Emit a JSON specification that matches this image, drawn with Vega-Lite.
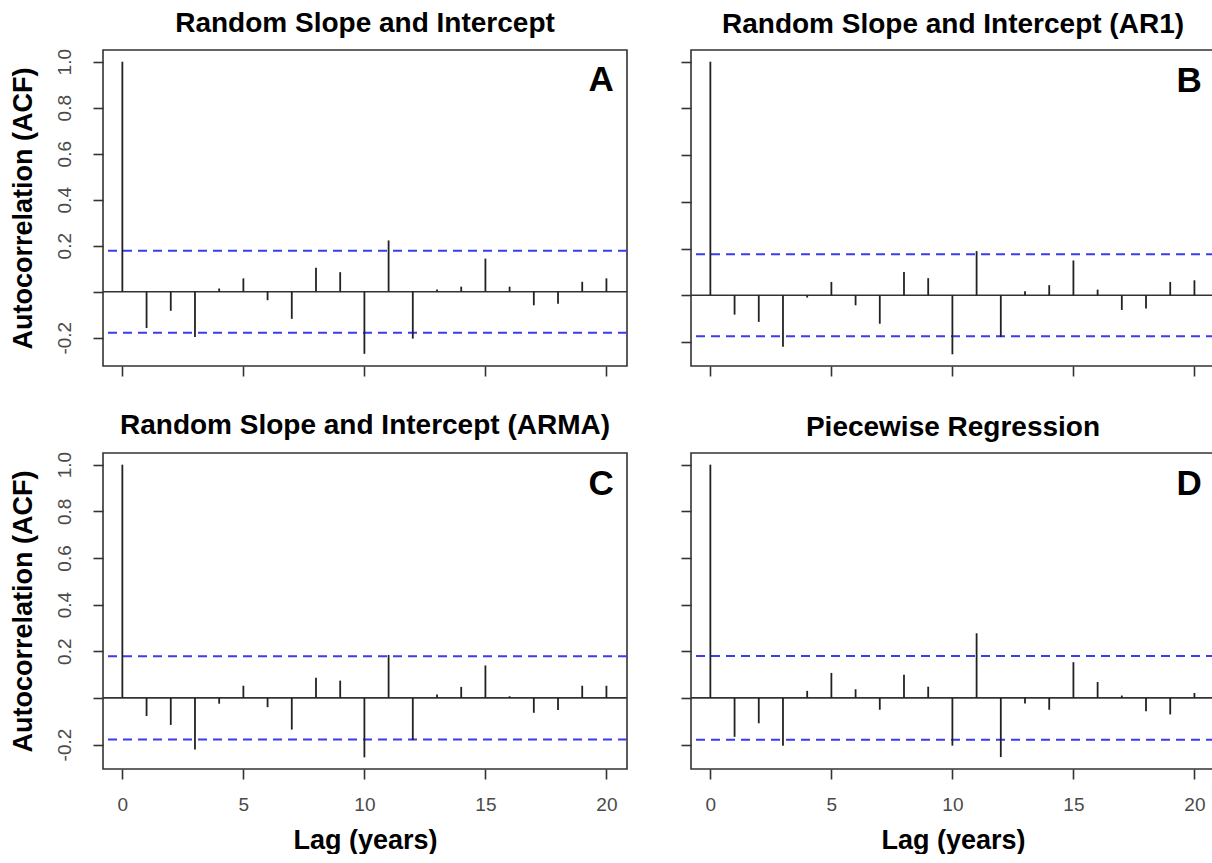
{
  "$schema": "https://vega.github.io/schema/vega-lite/v6.json",
  "background": "white",
  "padding": {"left": 8, "top": 8, "right": 0, "bottom": 0},
  "config": {
    "font": "Liberation Sans",
    "view": {"stroke": "#333333", "strokeWidth": 1.6},
    "title": {"font": "Liberation Sans", "fontSize": 28, "fontWeight": "bold", "color": "#000000", "anchor": "middle", "offset": 11},
    "axis": {
      "domain": false, "grid": false,
      "tickColor": "#333333", "tickWidth": 1.6, "tickSize": 10,
      "labelFont": "Liberation Sans", "labelFontSize": 19, "labelColor": "#4a4a4a",
      "titleFont": "Liberation Sans", "titleFontSize": 27, "titleFontWeight": "bold", "titleColor": "#000000"
    }
  },
  "datasets": {
    "acf": [
      {"panel": "A", "lag": 0, "acf": 1.0}, {"panel": "A", "lag": 1, "acf": -0.158}, {"panel": "A", "lag": 2, "acf": -0.083},
      {"panel": "A", "lag": 3, "acf": -0.197}, {"panel": "A", "lag": 4, "acf": 0.014}, {"panel": "A", "lag": 5, "acf": 0.058},
      {"panel": "A", "lag": 6, "acf": -0.037}, {"panel": "A", "lag": 7, "acf": -0.118}, {"panel": "A", "lag": 8, "acf": 0.104},
      {"panel": "A", "lag": 9, "acf": 0.085}, {"panel": "A", "lag": 10, "acf": -0.27}, {"panel": "A", "lag": 11, "acf": 0.223},
      {"panel": "A", "lag": 12, "acf": -0.204}, {"panel": "A", "lag": 13, "acf": 0.01}, {"panel": "A", "lag": 14, "acf": 0.022},
      {"panel": "A", "lag": 15, "acf": 0.144}, {"panel": "A", "lag": 16, "acf": 0.022}, {"panel": "A", "lag": 17, "acf": -0.059},
      {"panel": "A", "lag": 18, "acf": -0.052}, {"panel": "A", "lag": 19, "acf": 0.043}, {"panel": "A", "lag": 20, "acf": 0.058},
      {"panel": "B", "lag": 0, "acf": 1.0}, {"panel": "B", "lag": 1, "acf": -0.083}, {"panel": "B", "lag": 2, "acf": -0.114},
      {"panel": "B", "lag": 3, "acf": -0.221}, {"panel": "B", "lag": 4, "acf": -0.01}, {"panel": "B", "lag": 5, "acf": 0.057},
      {"panel": "B", "lag": 6, "acf": -0.043}, {"panel": "B", "lag": 7, "acf": -0.122}, {"panel": "B", "lag": 8, "acf": 0.1},
      {"panel": "B", "lag": 9, "acf": 0.073}, {"panel": "B", "lag": 10, "acf": -0.253}, {"panel": "B", "lag": 11, "acf": 0.189},
      {"panel": "B", "lag": 12, "acf": -0.179}, {"panel": "B", "lag": 13, "acf": 0.017}, {"panel": "B", "lag": 14, "acf": 0.043},
      {"panel": "B", "lag": 15, "acf": 0.149}, {"panel": "B", "lag": 16, "acf": 0.024}, {"panel": "B", "lag": 17, "acf": -0.063},
      {"panel": "B", "lag": 18, "acf": -0.057}, {"panel": "B", "lag": 19, "acf": 0.057}, {"panel": "B", "lag": 20, "acf": 0.064},
      {"panel": "C", "lag": 0, "acf": 1.0}, {"panel": "C", "lag": 1, "acf": -0.078}, {"panel": "C", "lag": 2, "acf": -0.116},
      {"panel": "C", "lag": 3, "acf": -0.221}, {"panel": "C", "lag": 4, "acf": -0.025}, {"panel": "C", "lag": 5, "acf": 0.052},
      {"panel": "C", "lag": 6, "acf": -0.04}, {"panel": "C", "lag": 7, "acf": -0.136}, {"panel": "C", "lag": 8, "acf": 0.086},
      {"panel": "C", "lag": 9, "acf": 0.074}, {"panel": "C", "lag": 10, "acf": -0.255}, {"panel": "C", "lag": 11, "acf": 0.184},
      {"panel": "C", "lag": 12, "acf": -0.181}, {"panel": "C", "lag": 13, "acf": 0.014}, {"panel": "C", "lag": 14, "acf": 0.047},
      {"panel": "C", "lag": 15, "acf": 0.139}, {"panel": "C", "lag": 16, "acf": 0.007}, {"panel": "C", "lag": 17, "acf": -0.064},
      {"panel": "C", "lag": 18, "acf": -0.052}, {"panel": "C", "lag": 19, "acf": 0.052}, {"panel": "C", "lag": 20, "acf": 0.052},
      {"panel": "D", "lag": 0, "acf": 1.0}, {"panel": "D", "lag": 1, "acf": -0.167}, {"panel": "D", "lag": 2, "acf": -0.109},
      {"panel": "D", "lag": 3, "acf": -0.205}, {"panel": "D", "lag": 4, "acf": 0.03}, {"panel": "D", "lag": 5, "acf": 0.107},
      {"panel": "D", "lag": 6, "acf": 0.037}, {"panel": "D", "lag": 7, "acf": -0.051}, {"panel": "D", "lag": 8, "acf": 0.099},
      {"panel": "D", "lag": 9, "acf": 0.048}, {"panel": "D", "lag": 10, "acf": -0.205}, {"panel": "D", "lag": 11, "acf": 0.277},
      {"panel": "D", "lag": 12, "acf": -0.254}, {"panel": "D", "lag": 13, "acf": -0.024}, {"panel": "D", "lag": 14, "acf": -0.051},
      {"panel": "D", "lag": 15, "acf": 0.153}, {"panel": "D", "lag": 16, "acf": 0.068}, {"panel": "D", "lag": 17, "acf": 0.01},
      {"panel": "D", "lag": 18, "acf": -0.057}, {"panel": "D", "lag": 19, "acf": -0.071}, {"panel": "D", "lag": 20, "acf": 0.021}
    ],
    "ci": [
      {"panel": "A", "ci": 0.178}, {"panel": "A", "ci": -0.178},
      {"panel": "B", "ci": 0.176}, {"panel": "B", "ci": -0.176},
      {"panel": "C", "ci": 0.178}, {"panel": "C", "ci": -0.178},
      {"panel": "D", "ci": 0.18}, {"panel": "D", "ci": -0.18}
    ],
    "letters": [
      {"panel": "A", "letter": "A"}, {"panel": "B", "letter": "B"},
      {"panel": "C", "letter": "C"}, {"panel": "D", "letter": "D"}
    ]
  },
  "spacing": 33,
  "vconcat": [
    {
      "spacing": 50,
      "hconcat": [
        {
          "title": "Random Slope and Intercept",
          "width": 524, "height": 316,
          "layer": [
            {
              "data": {"name": "ci"}, "transform": [{"filter": "datum.panel === 'A'"}],
              "mark": {"type": "rule", "color": "#3b3bf2", "strokeWidth": 2, "strokeDash": [9, 6]},
              "encoding": {"y": {"field": "ci", "type": "quantitative", "scale": {"domain": [-0.323, 1.051], "nice": false, "zero": false},
                "axis": {"values": [-0.2, 0, 0.2, 0.4, 0.6, 0.8, 1], "labelExpr": "datum.value == 0 ? '' : replace(format(datum.value, '.1f'), '−', '-')", "title": "Autocorrelation (ACF)", "labelAngle": -90, "labelAlign": "center", "labelBaseline": "bottom", "labelPadding": 19, "titlePadding": 18}}}
            },
            {
              "data": {"values": [{}]},
              "mark": {"type": "rule", "color": "#333333", "strokeWidth": 1.6},
              "encoding": {"y": {"datum": 0}}
            },
            {
              "data": {"name": "acf"}, "transform": [{"filter": "datum.panel === 'A'"}],
              "mark": {"type": "rule", "color": "#222222", "strokeWidth": 1.8},
              "encoding": {
                "x": {"field": "lag", "type": "quantitative", "scale": {"domain": [-0.8, 20.85], "nice": false, "zero": false},
                  "axis": {"values": [0, 5, 10, 15, 20], "labels": false, "title": null}},
                "y": {"field": "acf", "type": "quantitative"},
                "y2": {"datum": 0}
              }
            },
            {
              "data": {"name": "letters"}, "transform": [{"filter": "datum.panel === 'A'"}],
              "mark": {"type": "text", "fontSize": 35, "fontWeight": "bold", "align": "right", "baseline": "alphabetic", "color": "#000000"},
              "encoding": {"text": {"field": "letter"}, "x": {"datum": 20.3}, "y": {"datum": 0.872}}
            }
          ]
        },
        {
          "title": "Random Slope and Intercept (AR1)",
          "width": 524, "height": 316,
          "layer": [
            {
              "data": {"name": "ci"}, "transform": [{"filter": "datum.panel === 'B'"}],
              "mark": {"type": "rule", "color": "#3b3bf2", "strokeWidth": 2, "strokeDash": [9, 6]},
              "encoding": {"y": {"field": "ci", "type": "quantitative", "scale": {"domain": [-0.303, 1.05], "nice": false, "zero": false},
                "axis": {"values": [-0.2, 0, 0.2, 0.4, 0.6, 0.8, 1], "labels": false, "title": null}}}
            },
            {
              "data": {"values": [{}]},
              "mark": {"type": "rule", "color": "#333333", "strokeWidth": 1.6},
              "encoding": {"y": {"datum": 0}}
            },
            {
              "data": {"name": "acf"}, "transform": [{"filter": "datum.panel === 'B'"}],
              "mark": {"type": "rule", "color": "#222222", "strokeWidth": 1.8},
              "encoding": {
                "x": {"field": "lag", "type": "quantitative", "scale": {"domain": [-0.8, 20.85], "nice": false, "zero": false},
                  "axis": {"values": [0, 5, 10, 15, 20], "labels": false, "title": null}},
                "y": {"field": "acf", "type": "quantitative"},
                "y2": {"datum": 0}
              }
            },
            {
              "data": {"name": "letters"}, "transform": [{"filter": "datum.panel === 'B'"}],
              "mark": {"type": "text", "fontSize": 35, "fontWeight": "bold", "align": "right", "baseline": "alphabetic", "color": "#000000"},
              "encoding": {"text": {"field": "letter"}, "x": {"datum": 20.3}, "y": {"datum": 0.872}}
            }
          ]
        }
      ]
    },
    {
      "spacing": 50,
      "hconcat": [
        {
          "title": "Random Slope and Intercept (ARMA)",
          "width": 524, "height": 316,
          "layer": [
            {
              "data": {"name": "ci"}, "transform": [{"filter": "datum.panel === 'C'"}],
              "mark": {"type": "rule", "color": "#3b3bf2", "strokeWidth": 2, "strokeDash": [9, 6]},
              "encoding": {"y": {"field": "ci", "type": "quantitative", "scale": {"domain": [-0.305, 1.05], "nice": false, "zero": false},
                "axis": {"values": [-0.2, 0, 0.2, 0.4, 0.6, 0.8, 1], "labelExpr": "datum.value == 0 ? '' : replace(format(datum.value, '.1f'), '−', '-')", "title": "Autocorrelation (ACF)", "labelAngle": -90, "labelAlign": "center", "labelBaseline": "bottom", "labelPadding": 19, "titlePadding": 18}}}
            },
            {
              "data": {"values": [{}]},
              "mark": {"type": "rule", "color": "#333333", "strokeWidth": 1.6},
              "encoding": {"y": {"datum": 0}}
            },
            {
              "data": {"name": "acf"}, "transform": [{"filter": "datum.panel === 'C'"}],
              "mark": {"type": "rule", "color": "#222222", "strokeWidth": 1.8},
              "encoding": {
                "x": {"field": "lag", "type": "quantitative", "scale": {"domain": [-0.8, 20.85], "nice": false, "zero": false},
                  "axis": {"values": [0, 5, 10, 15, 20], "title": "Lag (years)", "labelPadding": 16, "titlePadding": 13}},
                "y": {"field": "acf", "type": "quantitative"},
                "y2": {"datum": 0}
              }
            },
            {
              "data": {"name": "letters"}, "transform": [{"filter": "datum.panel === 'C'"}],
              "mark": {"type": "text", "fontSize": 35, "fontWeight": "bold", "align": "right", "baseline": "alphabetic", "color": "#000000"},
              "encoding": {"text": {"field": "letter"}, "x": {"datum": 20.3}, "y": {"datum": 0.872}}
            }
          ]
        },
        {
          "title": "Piecewise Regression",
          "width": 524, "height": 316,
          "layer": [
            {
              "data": {"name": "ci"}, "transform": [{"filter": "datum.panel === 'D'"}],
              "mark": {"type": "rule", "color": "#3b3bf2", "strokeWidth": 2, "strokeDash": [9, 6]},
              "encoding": {"y": {"field": "ci", "type": "quantitative", "scale": {"domain": [-0.305, 1.05], "nice": false, "zero": false},
                "axis": {"values": [-0.2, 0, 0.2, 0.4, 0.6, 0.8, 1], "labels": false, "title": null}}}
            },
            {
              "data": {"values": [{}]},
              "mark": {"type": "rule", "color": "#333333", "strokeWidth": 1.6},
              "encoding": {"y": {"datum": 0}}
            },
            {
              "data": {"name": "acf"}, "transform": [{"filter": "datum.panel === 'D'"}],
              "mark": {"type": "rule", "color": "#222222", "strokeWidth": 1.8},
              "encoding": {
                "x": {"field": "lag", "type": "quantitative", "scale": {"domain": [-0.8, 20.85], "nice": false, "zero": false},
                  "axis": {"values": [0, 5, 10, 15, 20], "title": "Lag (years)", "labelPadding": 16, "titlePadding": 13}},
                "y": {"field": "acf", "type": "quantitative"},
                "y2": {"datum": 0}
              }
            },
            {
              "data": {"name": "letters"}, "transform": [{"filter": "datum.panel === 'D'"}],
              "mark": {"type": "text", "fontSize": 35, "fontWeight": "bold", "align": "right", "baseline": "alphabetic", "color": "#000000"},
              "encoding": {"text": {"field": "letter"}, "x": {"datum": 20.3}, "y": {"datum": 0.872}}
            }
          ]
        }
      ]
    }
  ]
}
